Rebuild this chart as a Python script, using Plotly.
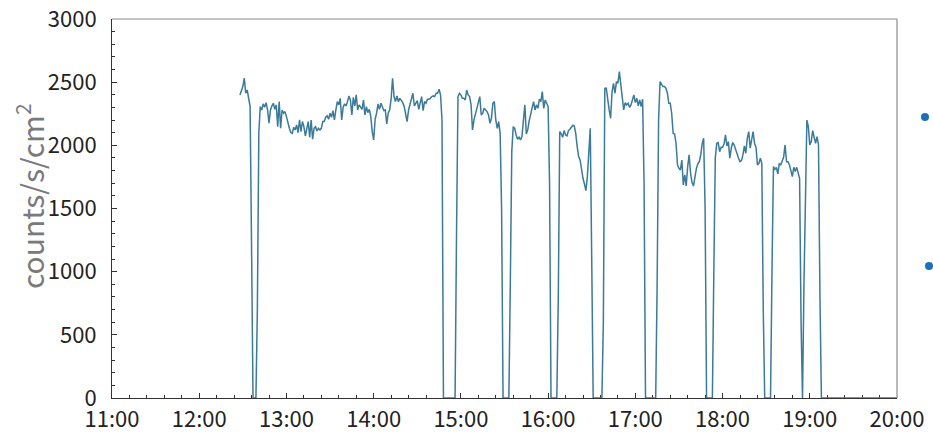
import pandas as pd
import plotly.graph_objects as go

DAY = "2024-01-01 "

# Per-minute count rates (counts/s/cm^2); each pass starts at the given clock time
pass_starts = ["12:28", "12:42", "14:58", "15:36", "16:08", "16:40", "17:17", "17:56", "18:35", "18:58"]

pass_1 = [2399, 2425, 2465, 2531, 2412, 2438, 2359, 2307, 1200, 0, 0, 0, 700, 2100]
pass_2 = [2307, 2280, 2328, 2301, 2338, 2280, 2175, 2280, 2312, 2333,
          2285, 2320, 2148, 2346, 2135, 2280, 2254, 2267, 2227, 2175,
          2135, 2101, 2095, 2143, 2122, 2161, 2101, 2201, 2109, 2188,
          2148, 2074, 2148, 2188, 2064, 2201, 2048, 2135, 2148, 2114,
          2135, 2122, 2135, 2188, 2188, 2222, 2233, 2206, 2254, 2222,
          2275, 2201, 2280, 2346, 2320, 2372, 2201, 2301, 2328, 2312,
          2346, 2391, 2359, 2241, 2380, 2312, 2399, 2280, 2320, 2307,
          2285, 2359, 2241, 2307, 2259, 2285, 2227, 2109, 2043, 2206,
          2254, 2328, 2285, 2333, 2307, 2275, 2280, 2169, 2254, 2280,
          2365, 2531, 2386, 2346, 2391, 2346, 2372, 2359, 2338, 2307,
          2227, 2188, 2280, 2320, 2380, 2412, 2312, 2338, 2354, 2285,
          2333, 2386, 2275, 2346, 2333, 2365, 2365, 2372, 2386, 2391,
          2386, 2412, 2412, 2444, 2400, 2200,
          0, 0, 0, 0, 0, 0, 0, 0, 0, 1300]
pass_3 = [2386, 2412, 2399, 2372, 2372, 2359, 2438, 2399, 2386, 2320,
          2122, 2201, 2254, 2307, 2346, 2386, 2241, 2254, 2293, 2280,
          2267, 2241, 2175, 2214, 2333, 2346, 2201, 2135, 2188, 2095,
          1500, 0, 0, 0, 0, 0, 900, 1950]
pass_4 = [2148, 2135, 2082, 2048, 2064, 2043, 2069, 2201, 2320, 2090,
          2122, 2196, 2254, 2293, 2346, 2280, 2320, 2293, 2365, 2346,
          2425, 2293, 2359, 2333, 2307, 1700, 0, 0, 0, 0, 0, 800]
pass_5 = [2109, 2090, 2064, 2117, 2082, 2075, 2117, 2127, 2148, 2159,
          2153, 2095, 1990, 1911, 1884, 1792, 1739, 1694, 1642, 1752,
          1937, 2135, 1100, 0, 0, 0, 0, 0, 0, 0, 600, 2450]
pass_6 = [2452, 2346, 2280, 2214, 2425, 2491, 2412, 2504, 2491, 2584,
          2491, 2365, 2280, 2338, 2320, 2333, 2301, 2320, 2359, 2399,
          2338, 2372, 2312, 2359, 2307, 2365, 1700,
          0, 0, 0, 0, 0, 0, 0, 0, 900, 2200]
pass_7 = [2504, 2486, 2465, 2465, 2452, 2417, 2333, 2333, 2254, 2095,
          2090, 2016, 1845, 1818, 1805, 1884, 1686, 1766, 1678, 1831,
          1924, 1779, 1705, 1678, 1758, 1818, 1853, 1871, 1924, 2016,
          2056, 1500, 0, 0, 0, 0, 0, 1000, 1900]
pass_8 = [2016, 2022, 1950, 1985, 1985, 2011, 2082, 1995, 2029, 1898,
          1977, 2022, 2003, 1963, 1932, 1898, 1871, 1879, 1924, 1995,
          1937, 2056, 2109, 1977, 2043, 2109, 2016, 1985, 1845, 1858,
          1898, 1858, 700, 0, 0, 0, 0, 0, 1000]
pass_9 = [1832, 1810, 1826, 1774, 1853, 1845, 1884, 1905, 2003, 1871,
          1871, 1845, 1800, 1752, 1826, 1792, 1826, 1779, 1739, 600,
          0, 900, 1700]
pass_10 = [2200, 2150, 2003, 2029, 2117, 2064, 2016, 2069, 2003, 800] + [0] * 54

passes = [pass_1, pass_2, pass_3, pass_4, pass_5, pass_6, pass_7, pass_8, pass_9, pass_10]

x_range = ["11:00", "20:00"]
y_range = [0, 3000]
y_title = "counts/s/cm<sup>2</sup>"

times, values = [], []
for start, vals in zip(pass_starts, passes):
    t = pd.date_range(DAY + start, periods=len(vals), freq="1min")
    times.extend(t)
    values.extend(vals)

fig = go.Figure()
fig.add_trace(go.Scatter(x=times, y=values, mode="lines",
                         line=dict(color="#3b7a98", width=1.5),
                         hoverinfo="skip", showlegend=False))

tickfont = dict(family="Noto Sans CJK JP", size=22, color="#222222")

fig.update_xaxes(
    type="date", range=[DAY + x_range[0], DAY + x_range[1]],
    dtick=3600000, tickformat="%H:%M",
    ticks="inside", ticklen=5, tickcolor="#333333", tickwidth=1,
    minor=dict(dtick=720000, ticks="inside", ticklen=3, tickcolor="#333333"),
    showline=True, linecolor="#333333", linewidth=1,
    showgrid=False, zeroline=False, tickfont=tickfont,
    ticklabelstandoff=2, layer="below traces", automargin=False,
)
fig.update_yaxes(
    range=y_range, dtick=500,
    ticks="inside", ticklen=5, tickcolor="#333333", tickwidth=1,
    minor=dict(dtick=100, ticks="inside", ticklen=3, tickcolor="#333333"),
    showline=True, linecolor="#333333", linewidth=1,
    showgrid=False, zeroline=False, tickfont=tickfont,
    ticklabelstandoff=10, automargin=False,
)

shapes = [
    dict(type="line", xref="paper", yref="paper", x0=0, x1=1, y0=1, y1=1,
         line=dict(color="#8a8a8a", width=1.2)),
    dict(type="line", xref="paper", yref="paper", x0=1, x1=1, y0=0, y1=1,
         line=dict(color="#8a8a8a", width=1.2)),
    dict(type="circle", xref="paper", yref="paper",
         x0=(921 - 112) / 785, x1=(929 - 112) / 785,
         y0=(398 - 121) / 379, y1=(398 - 113) / 379,
         fillcolor="#1f6fb8", line=dict(width=0)),
    dict(type="circle", xref="paper", yref="paper",
         x0=(925 - 112) / 785, x1=(933 - 112) / 785,
         y0=(398 - 270) / 379, y1=(398 - 262) / 379,
         fillcolor="#1f6fb8", line=dict(width=0)),
]

fig.update_layout(
    width=933, height=434,
    margin=dict(l=112, r=36, t=19, b=36),
    paper_bgcolor="white", plot_bgcolor="white",
    shapes=shapes,
    annotations=[dict(text=y_title, textangle=-90, showarrow=False,
                      xref="paper", yref="paper",
                      x=(30 - 112) / 785, y=(398 - 196) / 379,
                      xanchor="center", yanchor="middle",
                      font=dict(family="Noto Sans CJK JP", size=30, color="#7a7a7a"))],
)

fig.write_html("out.html")
